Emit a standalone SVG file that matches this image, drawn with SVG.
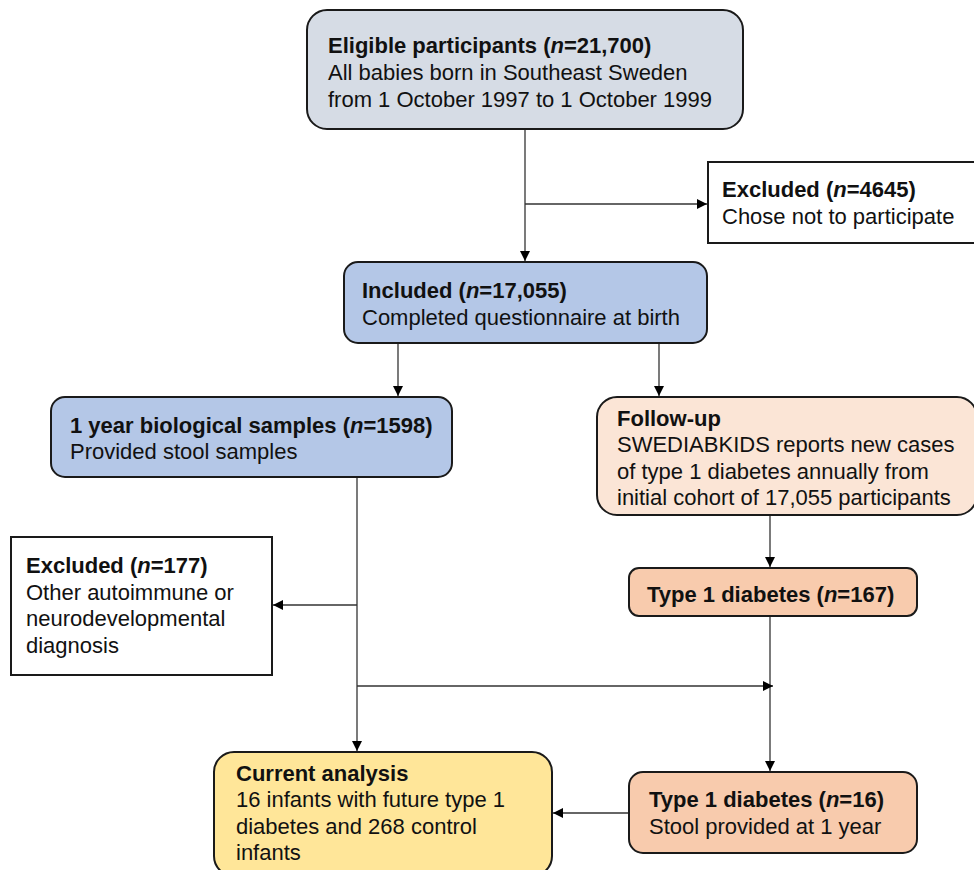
<svg xmlns="http://www.w3.org/2000/svg" width="974" height="870" viewBox="0 0 974 870">
<defs>
<style>
text{font-family:"Liberation Sans",Arial,sans-serif;font-size:22px;fill:#111}
.b{font-weight:bold}
.box{stroke:#1a1a1a;stroke-width:2}
.c{fill:none;stroke:#333;stroke-width:1.3}
</style>
<marker id="ah" viewBox="0 0 10 10" refX="10" refY="5" markerWidth="10" markerHeight="10" markerUnits="userSpaceOnUse" orient="auto">
<path d="M0,0 L10,5 L0,10 Z" fill="#000"/>
</marker>
</defs>
<rect width="974" height="870" fill="#fff"/>
<g id="connectors">
<path class="c" d="M525,129 V261" marker-end="url(#ah)"/>
<path class="c" d="M525,204 H707" marker-end="url(#ah)"/>
<path class="c" d="M398,343 V396" marker-end="url(#ah)"/>
<path class="c" d="M659,343 V396" marker-end="url(#ah)"/>
<path class="c" d="M770,515 V567" marker-end="url(#ah)"/>
<path class="c" d="M770,616 V771" marker-end="url(#ah)"/>
<path class="c" d="M357,477 V751" marker-end="url(#ah)"/>
<path class="c" d="M357,605 H273" marker-end="url(#ah)"/>
<path class="c" d="M357,686 H773" marker-end="url(#ah)"/>
<path class="c" d="M629,813 H553" marker-end="url(#ah)"/>
</g>
<g id="eligible">
<rect class="box" x="307" y="10" width="436" height="119" rx="20" fill="#d6dce5"/>
<text x="328" y="53"><tspan class="b">Eligible participants (<tspan font-style="italic">n</tspan>=21,700)</tspan></text>
<text x="328" y="80">All babies born in Southeast Sweden</text>
<text x="328" y="107">from 1 October 1997 to 1 October 1999</text>
</g>
<g id="excluded1">
<rect class="box" x="708" y="162" width="268" height="81" fill="#fff"/>
<text x="722" y="197" class="b">Excluded (<tspan font-style="italic">n</tspan>=4645)</text>
<text x="722" y="224">Chose not to participate</text>
</g>
<g id="included">
<rect class="box" x="344" y="262" width="363" height="81" rx="14" fill="#b4c7e7"/>
<text x="362" y="298" class="b">Included (<tspan font-style="italic">n</tspan>=17,055)</text>
<text x="362" y="325">Completed questionnaire at birth</text>
</g>
<g id="samples">
<rect class="box" x="51" y="397" width="401" height="80" rx="14" fill="#b4c7e7"/>
<text x="70" y="433" class="b">1 year biological samples (<tspan font-style="italic">n</tspan>=1598)</text>
<text x="70" y="459">Provided stool samples</text>
</g>
<g id="followup">
<rect class="box" x="597" y="397" width="380" height="118" rx="20" fill="#fbe5d6"/>
<text x="617" y="426" class="b">Follow-up</text>
<text x="617" y="452">SWEDIABKIDS reports new cases</text>
<text x="617" y="479">of type 1 diabetes annually from</text>
<text x="617" y="505">initial cohort of 17,055 participants</text>
</g>
<g id="t1d167">
<rect class="box" x="629" y="568" width="288" height="48" rx="10" fill="#f8cbad"/>
<text x="647" y="602" class="b">Type 1 diabetes (<tspan font-style="italic">n</tspan>=167)</text>
</g>
<g id="excluded2">
<rect class="box" x="11" y="537" width="261" height="138" fill="#fff"/>
<text x="26" y="573" class="b">Excluded (<tspan font-style="italic">n</tspan>=177)</text>
<text x="26" y="600">Other autoimmune or</text>
<text x="26" y="626">neurodevelopmental</text>
<text x="26" y="653">diagnosis</text>
</g>
<g id="current">
<rect class="box" x="214" y="752" width="338" height="124" rx="20" fill="#ffe699"/>
<text x="236" y="781" class="b">Current analysis</text>
<text x="236" y="807">16 infants with future type 1</text>
<text x="236" y="834">diabetes and 268 control</text>
<text x="236" y="860">infants</text>
</g>
<g id="t1d16">
<rect class="box" x="629" y="772" width="288" height="81" rx="14" fill="#f8cbad"/>
<text x="649" y="807" class="b">Type 1 diabetes (<tspan font-style="italic">n</tspan>=16)</text>
<text x="649" y="834">Stool provided at 1 year</text>
</g>
</svg>
